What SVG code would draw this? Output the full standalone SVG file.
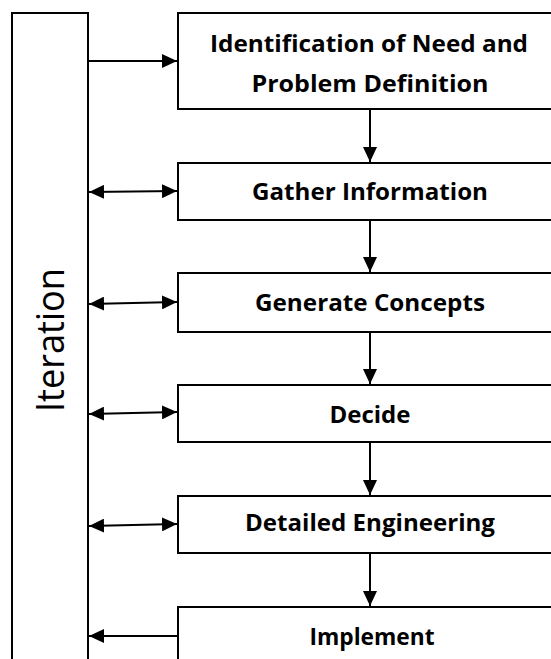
<svg xmlns="http://www.w3.org/2000/svg" width="551" height="659" viewBox="0 0 551 659">
<style>
.box{fill:#fff;stroke:#000;stroke-width:2}
.lbl{font-family:"Open Sans","Liberation Sans",sans-serif;font-weight:bold;font-size:24px;text-anchor:middle;fill:#000}
.con{stroke:#000;stroke-width:2;fill:none}
</style>
<defs>
<marker id="ah" viewBox="0 0 15 14" refX="15" refY="7" markerWidth="15" markerHeight="14" markerUnits="userSpaceOnUse" orient="auto-start-reverse">
<path d="M0,0 L15,7 L0,14 Z" fill="#000"/>
</marker>
</defs>
<rect width="551" height="659" fill="#fff"/>
<g id="iteration">
<rect class="box" x="12" y="13" width="76" height="660"/>
<text x="0" y="0" transform="translate(64,340) rotate(-90)" font-family="Open Sans, Liberation Sans, sans-serif" font-size="38" text-anchor="middle" textLength="144" lengthAdjust="spacingAndGlyphs">Iteration</text>
</g>
<g id="n1">
<rect class="box" x="178" y="13" width="390" height="96"/>
<text class="lbl" x="369" y="52" textLength="318" lengthAdjust="spacingAndGlyphs">Identification of Need and</text>
<text class="lbl" x="370" y="92" textLength="237" lengthAdjust="spacingAndGlyphs">Problem Definition</text>
</g>
<g id="n2">
<rect class="box" x="178" y="163" width="390" height="57"/>
<text class="lbl" x="370" y="200" textLength="236" lengthAdjust="spacingAndGlyphs">Gather Information</text>
</g>
<g id="n3">
<rect class="box" x="178" y="273" width="390" height="59"/>
<text class="lbl" x="370" y="311" textLength="230" lengthAdjust="spacingAndGlyphs">Generate Concepts</text>
</g>
<g id="n4">
<rect class="box" x="178" y="385" width="390" height="57"/>
<text class="lbl" x="370" y="423" textLength="81" lengthAdjust="spacingAndGlyphs">Decide</text>
</g>
<g id="n5">
<rect class="box" x="178" y="496" width="390" height="57"/>
<text class="lbl" x="370" y="531" textLength="250" lengthAdjust="spacingAndGlyphs">Detailed Engineering</text>
</g>
<g id="n6">
<rect class="box" x="178" y="607" width="390" height="80"/>
<text class="lbl" x="372" y="645" textLength="125" lengthAdjust="spacingAndGlyphs">Implement</text>
</g>
<g id="connectors">
<line class="con" x1="370" y1="109" x2="370" y2="162" marker-end="url(#ah)"/>
<line class="con" x1="370" y1="220" x2="370" y2="272" marker-end="url(#ah)"/>
<line class="con" x1="370" y1="332" x2="370" y2="384" marker-end="url(#ah)"/>
<line class="con" x1="370" y1="442" x2="370" y2="495" marker-end="url(#ah)"/>
<line class="con" x1="370" y1="553" x2="370" y2="606" marker-end="url(#ah)"/>
<line class="con" x1="88" y1="61" x2="177" y2="61" marker-end="url(#ah)"/>
<line class="con" x1="89" y1="192" x2="177" y2="191" marker-start="url(#ah)" marker-end="url(#ah)"/>
<line class="con" x1="89" y1="304" x2="177" y2="302" marker-start="url(#ah)" marker-end="url(#ah)"/>
<line class="con" x1="89" y1="414" x2="177" y2="412" marker-start="url(#ah)" marker-end="url(#ah)"/>
<line class="con" x1="89" y1="526" x2="177" y2="524" marker-start="url(#ah)" marker-end="url(#ah)"/>
<line class="con" x1="178" y1="636" x2="89" y2="636" marker-end="url(#ah)"/>
</g>
</svg>
